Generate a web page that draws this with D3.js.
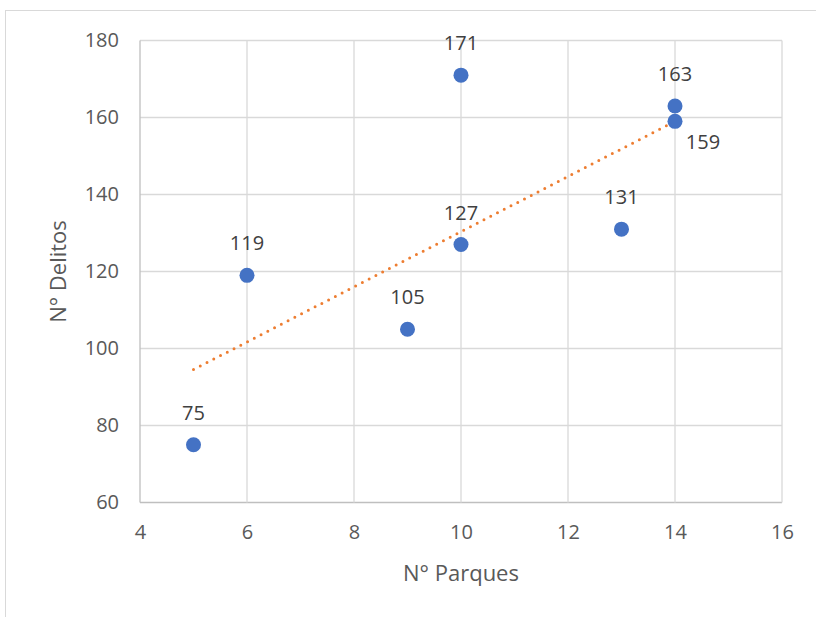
<!DOCTYPE html>
<html>
<head>
<meta charset="utf-8">
<script src="https://cdn.jsdelivr.net/npm/d3@7/dist/d3.min.js"></script>
<style>
	body { margin: 0; background: #fff; }
	text { font-family: 'Open Sans', sans-serif; }
</style>
</head>
<body>
<svg id="chart"></svg>
<script>
// Data
var parques = [5, 6, 9, 10, 10, 13, 14, 14]
var delitos = [75, 119, 105, 127, 171, 131, 163, 159]
var xTicks = [4, 6, 8, 10, 12, 14, 16]
var yTicks = [60, 80, 100, 120, 140, 160, 180]

var width = 816,
	height = 617

var svg = d3.select('#chart').attr('width', width).attr('height', height)

// outer chart border (runs off the right / bottom)
svg.append('rect')
	.attr('x', 5.5)
	.attr('y', 10.5)
	.attr('width', 900)
	.attr('height', 900)
	.attr('fill', 'none')
	.attr('stroke', '#d9d9d9')

var x = d3.scaleLinear().domain([4, 16]).range([140, 782])
var y = d3.scaleLinear().domain([60, 180]).range([502.5, 40.5])

var grid = svg.append('g')
grid.selectAll('.hgrid')
	.data(yTicks)
	.join('line')
	.attr('x1', x(4))
	.attr('x2', x(16))
	.attr('y1', (d) => y(d))
	.attr('y2', (d) => y(d))
	.attr('stroke', (d) => (d === 60 ? '#bfbfbf' : '#d9d9d9'))
	.attr('stroke-width', 1.3)
grid.selectAll('.vgrid')
	.data(xTicks)
	.join('line')
	.attr('x1', (d) => x(d))
	.attr('x2', (d) => x(d))
	.attr('y1', y(60))
	.attr('y2', y(180))
	.attr('stroke', (d) => (d === 4 ? '#bfbfbf' : '#d9d9d9'))
	.attr('stroke-width', 1.3)

// axes (labels only, lines drawn by grid)
svg.append('g')
	.attr('transform', 'translate(0,' + y(60) + ')')
	.call(d3.axisBottom(x).tickValues(xTicks).tickSize(0).tickPadding(22))
svg.append('g')
	.attr('transform', 'translate(' + x(4) + ',0)')
	.call(d3.axisLeft(y).tickValues(yTicks).tickSize(0).tickPadding(21))
svg.selectAll('.domain').remove()
svg.selectAll('.tick text')
	.attr('fill', '#595959')
	.style('font-size', '20px')

// axis titles
svg.append('text')
	.attr('x', (x(4) + x(16)) / 2)
	.attr('y', 581)
	.attr('text-anchor', 'middle')
	.attr('fill', '#595959')
	.style('font-size', '22px')
	.text('N° Parques')
svg.append('text')
	.attr('transform', 'translate(66,' + (y(60) + y(180)) / 2 + ') rotate(-90)')
	.attr('text-anchor', 'middle')
	.attr('fill', '#595959')
	.style('font-size', '22px')
	.text('N° Delitos')

// linear trendline
var points = parques.map((p, i) => ({ x: p, y: delitos[i] }))
var mx = d3.mean(parques),
	my = d3.mean(delitos)
var sxy = d3.sum(points, (d) => (d.x - mx) * (d.y - my))
var sxx = d3.sum(points, (d) => (d.x - mx) * (d.x - mx))
var slope = sxy / sxx,
	intercept = my - slope * mx
var xr = d3.extent(parques)

svg.append('line')
	.attr('x1', x(xr[0]))
	.attr('y1', y(intercept + slope * xr[0]))
	.attr('x2', x(xr[1]))
	.attr('y2', y(intercept + slope * xr[1]))
	.attr('stroke', '#ed7d31')
	.attr('stroke-width', 3)
	.attr('stroke-linecap', 'round')
	.attr('stroke-dasharray', '0,7.6')

// points
svg.selectAll('.dot')
	.data(points)
	.join('circle')
	.attr('cx', (d) => x(d.x))
	.attr('cy', (d) => y(d.y))
	.attr('r', 7.5)
	.attr('fill', '#4472c4')

// data labels
svg.selectAll('.lbl')
	.data(points)
	.join('text')
	.attr('x', (d) => x(d.x) + (d.y === 159 ? 28 : 0))
	.attr('y', (d) => y(d.y) + (d.y === 159 ? 28 : -25))
	.attr('text-anchor', 'middle')
	.attr('fill', '#404040')
	.style('font-size', '20px')
	.text((d) => d.y)
</script>
</body>
</html>
